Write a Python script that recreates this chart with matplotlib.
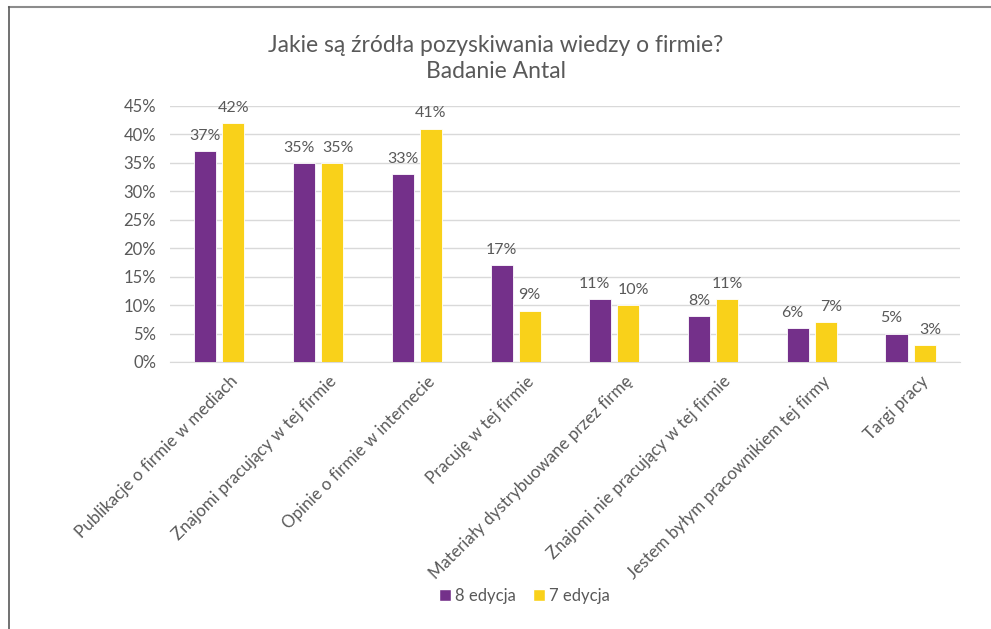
import numpy as np
import matplotlib
matplotlib.use("Agg")
import matplotlib.pyplot as plt
from matplotlib.lines import Line2D

categories = [
    "Publikacje o firmie w mediach",
    "Znajomi pracujący w tej firmie",
    "Opinie o firmie w internecie",
    "Pracuję w tej firmie",
    "Materiały dystrybuowane przez firmę",
    "Znajomi nie pracujący w tej firmie",
    "Jestem byłym pracownikiem tej firmy",
    "Targi pracy",
]
edycja_8 = [0.37, 0.35, 0.33, 0.17, 0.11, 0.08, 0.06, 0.05]
edycja_7 = [0.42, 0.35, 0.41, 0.09, 0.10, 0.11, 0.07, 0.03]
series_names = ["8 edycja", "7 edycja"]
y_ticks = [0, 0.05, 0.10, 0.15, 0.20, 0.25, 0.30, 0.35, 0.40, 0.45]

purple = "#74308A"
yellow = "#F9D11A"
grey = "#595959"

plt.rcParams["font.family"] = ["Lato", "DejaVu Sans"]

fig = plt.figure(figsize=(9.91, 6.29), dpi=100)
ax = fig.add_axes([0.1716, 0.4245, 0.797, 0.407])

x = np.arange(len(categories))
w = 0.223
off = 0.142
b1 = ax.bar(x - off, edycja_8, w, color=purple, edgecolor="white", linewidth=0.6, zorder=3, label=series_names[0])
b2 = ax.bar(x + off, edycja_7, w, color=yellow, edgecolor="white", linewidth=0.6, zorder=3, label=series_names[1])

# value labels; push apart the pair when both sit at nearly the same height
for i in range(len(categories)):
    close = abs(edycja_8[i] - edycja_7[i]) < 0.03
    for rect, sign in ((b1[i], -1), (b2[i], 1)):
        h = rect.get_height()
        dx = sign * 4 if close else 0
        ax.annotate(f"{round(h * 100):d}%", (rect.get_x() + rect.get_width() / 2, h),
                    xytext=(dx, 6), textcoords="offset points", ha="center", va="bottom",
                    fontsize=11.5, color=grey)

ax.set_xlim(-0.5, len(categories) - 0.5)
ax.set_ylim(0, 0.45)
ax.set_yticks(y_ticks)
ax.set_yticklabels([f"{round(t * 100):d}%" for t in y_ticks])
ax.yaxis.grid(True, color="#d9d9d9", linewidth=1, zorder=0)
ax.set_axisbelow(True)
for s in ["top", "right", "left"]:
    ax.spines[s].set_visible(False)
ax.spines["bottom"].set_color("#d9d9d9")
ax.tick_params(axis="y", length=0, pad=10, labelsize=12, labelcolor=grey)
ax.tick_params(axis="x", length=0, pad=8, labelsize=12.2, labelcolor=grey)
ax.set_xticks(x + 0.1)
ax.set_xticklabels(categories, rotation=45, ha="right", rotation_mode="anchor")

fig.text(0.5, 0.907, "Jakie są źródła pozyskiwania wiedzy o firmie?\nBadanie Antal",
         ha="center", va="center", fontsize=16.5, color=grey, linespacing=1.3)

handles = [Line2D([0], [0], marker="s", color="w", markerfacecolor=c, markersize=9, linestyle="")
           for c in (purple, yellow)]
fig.legend(handles, series_names, loc="center", bbox_to_anchor=(0.528, 0.052), ncol=2,
           frameon=False, fontsize=12, labelcolor=grey, handletextpad=0.1, columnspacing=0.9,
           handlelength=1.0)

# frame lines of the original screenshot
fig.add_artist(Line2D([9 / 991, 1], [1 - 7 / 629, 1 - 7 / 629], color="#8c8c8c", linewidth=1.5))
fig.add_artist(Line2D([9 / 991, 9 / 991], [0, 1 - 7 / 629], color="#595959", linewidth=1.2))

fig.savefig("out.png", dpi=100)
